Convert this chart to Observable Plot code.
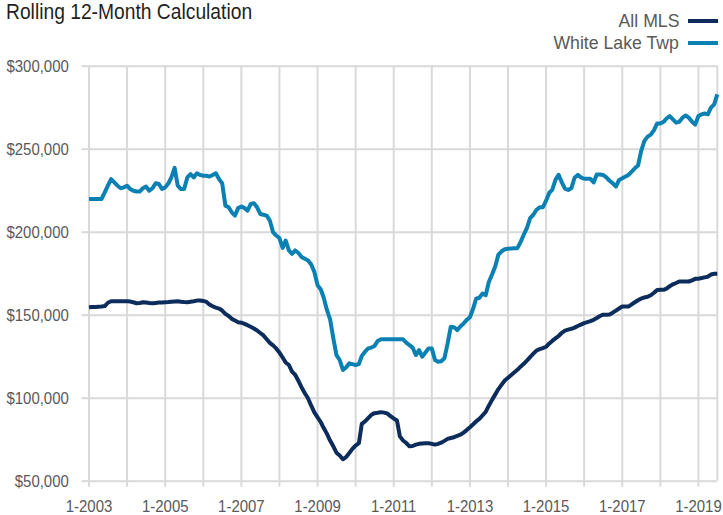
<!DOCTYPE html>
<html>
<head>
<meta charset="utf-8">
<script src="https://cdn.jsdelivr.net/npm/d3@7"></script>
<script src="https://cdn.jsdelivr.net/npm/@observablehq/plot@0.6"></script>
<style>
  body { margin: 0; background: #fff; }
  #wrap { position: relative; width: 723px; height: 515px; font-family: "Liberation Sans", Arial, sans-serif; overflow: hidden; }
  #title { position: absolute; left: 6px; top: -2px; font-size: 22px; color: #1f1f1f; line-height: 28px; white-space: nowrap; transform: scaleX(0.875); transform-origin: 0 50%; }
  .leg { position: absolute; right: 44px; font-size: 19px; color: #595959; line-height: 24px; white-space: nowrap; transform: scaleX(0.93); transform-origin: 100% 50%; }
  .sw { position: absolute; left: 688px; width: 30px; height: 4px; }
  #chart { position: absolute; left: 0; top: 0; }
</style>
</head>
<body>
<div id="wrap">
  <div id="chart"></div>
  <div id="title"></div>
  <div id="legend"></div>
</div>
<script>
// ---- Data (thousands of dollars), monthly from 1-2003 to 7-2019 ----
const title = "Rolling 12-Month Calculation";
const seriesNames = ["All MLS", "White Lake Twp"];
const seriesColors = ["#0c2c5c", "#0b80b2"];
const startMonth = "2003-01";
const endMonth = "2019-07";

const allMLS = [
  154.8, 155, 155, 155.1, 155.2, 155.5, 157.5, 158.4, 158.4, 158.4, 158.4, 158.4,
  158.4, 158.2, 157.8, 157.2, 157.4, 157.8, 157.6, 157.3, 157.2, 157.4, 157.6, 157.7,
  157.8, 157.9, 158.1, 158.3, 158.4, 158.1, 157.9, 157.8, 158.1, 158.4, 158.8, 158.9,
  158.6, 158, 156.5, 155.4, 154.6, 154, 152.8, 150.8, 149.5, 147.8, 146.8, 145.8,
  145.5, 144.8, 144, 143, 142, 140.8, 139.3, 137.8, 135.5, 133.3, 131.8, 130,
  127.5, 124.5, 121.5, 120, 116, 114, 110.5, 106.5, 103, 100, 95.5, 91.5,
  88.5, 85.5, 82, 78.5, 74.5, 71, 67.2, 65.5, 63.2, 64.5, 67, 69.5,
  71.5, 72.9, 84.6, 86, 88, 90, 91, 91.2, 91.6, 91.3, 90.8, 89.2,
  87.8, 86.6, 77, 74.5, 73, 71, 71.2, 72, 72.5, 72.7, 72.8, 72.9,
  72.5, 72, 72.5, 73.2, 74.3, 75.5, 76, 76.5, 77.3, 78, 79.3, 80.8,
  82.5, 84.3, 86, 87.5, 89.6, 91.7, 95.5, 99, 102.3, 105.5, 108.2, 110.7,
  112.3, 114, 115.5, 117.1, 119, 120.7, 122.7, 124.8, 126.8, 128.7, 129.6, 130.2,
  131, 133, 134.5, 136, 137.5, 139.4, 140.7, 141.3, 141.8, 142.5, 143.5, 144.3,
  145.2, 145.8, 146.4, 147.2, 148.3, 149.5, 150.3, 150.3, 150.4, 151.5, 152.8, 154,
  155.2, 155.2, 155.2, 156.5, 157.8, 159, 160, 160.7, 161.1, 162, 163.5, 165.2,
  165.3, 165.3, 166, 167.5, 168.6, 169.4, 170.3, 170.3, 170.3, 170.3, 171, 171.9,
  172, 172.4, 172.8, 173.2, 174.5, 175, 175
];

const whiteLake = [
  220, 220, 220, 220, 220, 224, 228, 232, 230, 228, 226.5, 227,
  228, 226, 225, 224.5, 224.5, 226.5, 227.5, 225, 226.5, 229.5, 229, 226,
  227, 229.5, 233, 238.8, 228, 226, 226, 233, 235, 233, 235.5, 234.5,
  234, 234, 233.5, 234.5, 235.5, 232, 229.5, 216, 215, 212, 210, 214.5,
  215.5, 214.5, 213, 217, 217.5, 215, 211, 210.5, 210, 207, 200, 198,
  196.5, 190.5, 195, 189, 187, 189, 187.5, 185, 184, 183, 180.5, 176,
  168, 165.5, 160.5, 153, 147.5, 136, 126, 123, 117, 118.5, 121, 120.5,
  120, 120.5, 125.5, 128, 130, 130.5, 131.5, 134.5, 135.5, 135.5, 135.5, 135.5,
  135.5, 135.5, 135.5, 135.5, 133.5, 132, 130.5, 126, 129, 125, 127.5, 130,
  130, 123, 122, 122.3, 124, 133, 143, 142.8, 141, 143.2, 145, 147.2,
  148.8, 154, 159.9, 160.5, 163, 162, 170, 174.5, 179.5, 186.5, 188.5, 189.7,
  190, 190.2, 190.3, 190.4, 194, 198.5, 202.5, 208.5, 210.5, 213.5, 215, 215,
  219, 223.8, 225.5, 231.5, 234.6, 230, 226.2, 225.5, 226.5, 232.8, 234.5, 233,
  232.2, 232.2, 232.2, 230, 234.8, 234.8, 234.5, 233, 231, 229.5, 227.5, 231.5,
  232.5, 233.5, 234.5, 236.5, 238.5, 240.2, 249, 255, 257.6, 258.8, 261.5, 265.5,
  265.5, 266.5, 268.5, 270, 268, 266, 266.5, 269, 270.3, 269, 266.5, 264.8,
  270, 271, 271.5, 271, 275, 277, 283
];

const yTickValues = [50000, 100000, 150000, 200000, 250000, 300000];
const xTickYears = [2003, 2004, 2005, 2006, 2007, 2008, 2009, 2010, 2011, 2012, 2013, 2014, 2015, 2016, 2017, 2018, 2019];
const labeledYears = [2003, 2005, 2007, 2009, 2011, 2013, 2015, 2017, 2019];

// ---- Build table ----
const parse = d3.utcParse("%Y-%m");
const start = parse(startMonth);
const end = parse(endMonth);
const months = d3.utcMonth.range(start, d3.utcMonth.offset(end, 1));
const table = [];
[allMLS, whiteLake].forEach((vals, si) => {
  vals.forEach((v, i) => table.push({ series: seriesNames[si], date: months[i], value: v * 1000 }));
});
const xTicks = xTickYears.map(y => new Date(Date.UTC(y, 0, 1)));
const gridXTicks = xTicks.concat([end]);

const font = '"Liberation Sans", Arial, sans-serif';
const gridColor = "#d9d9d9";
const textColor = "#595959";

const chart = Plot.plot({
  width: 723,
  height: 515,
  marginLeft: 88.5,
  marginRight: 6.2,
  marginTop: 65.7,
  marginBottom: 34.3,
  style: { fontFamily: font, fontSize: "17px", background: "transparent", color: textColor },
  x: { type: "utc", domain: [start, end] },
  y: { domain: [50000, 300000] },
  color: { domain: seriesNames, range: seriesColors },
  marks: [
    Plot.gridX(gridXTicks, { stroke: gridColor, strokeOpacity: 1, strokeWidth: 2 }),
    Plot.gridY(yTickValues, { stroke: gridColor, strokeOpacity: 1, strokeWidth: 2 }),
    Plot.axisX(xTicks, {
      tickSize: 6, tickPadding: 13, stroke: gridColor, strokeWidth: 2, fill: textColor,
      tickFormat: d => labeledYears.includes(d.getUTCFullYear()) ? `${d.getUTCMonth() + 1}-${d.getUTCFullYear()}` : "",
      label: null, ariaLabel: "x-axis"
    }),
    Plot.axisY(yTickValues, {
      tickSize: 7, tickPadding: 13.2, stroke: gridColor, strokeWidth: 2, fill: textColor,
      tickFormat: d3.format("$,"), label: null, ariaLabel: "y-axis"
    }),
    Plot.line(table, {
      x: "date", y: "value", z: "series", stroke: "series",
      strokeWidth: 4, strokeLinejoin: "round", strokeLinecap: "butt", curve: "linear"
    })
  ]
});
// slightly condensed tick labels (narrow face is not installed)
chart.querySelectorAll("text").forEach(t => {
  const tr = t.getAttribute("transform");
  if (tr) t.setAttribute("transform", tr + " scale(0.88,1)");
});
document.getElementById("chart").appendChild(chart);

// ---- Title and legend ----
document.getElementById("title").textContent = title;
const legend = document.getElementById("legend");
const legTops = [8.5, 31];
const swTops = [18.7, 41.3];
seriesNames.forEach((name, i) => {
  const t = document.createElement("div");
  t.className = "leg";
  t.style.top = legTops[i] + "px";
  t.textContent = name;
  legend.appendChild(t);
  const s = document.createElement("div");
  s.className = "sw";
  s.style.top = swTops[i] + "px";
  s.style.background = seriesColors[i];
  legend.appendChild(s);
});
</script>
</body>
</html>
